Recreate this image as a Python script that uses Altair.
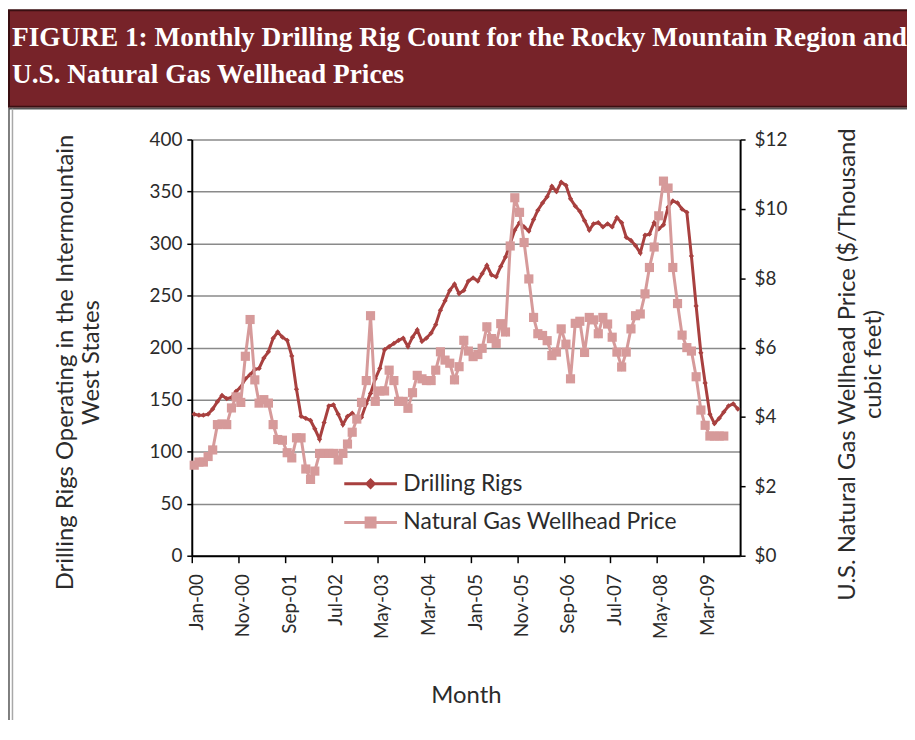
import altair as alt
import pandas as pd

# ---------------- data ----------------
start_month = "2000-01-01"
rig_counts = [
    136, 135, 135, 136, 141, 148, 154, 151, 152, 158,   # Jan-00 .. Oct-00
    162, 170, 174, 179, 180, 190, 196, 209, 215, 210,   # Nov-00 .. Aug-01
    207, 192, 160, 134, 132, 130, 122, 112, 128, 144,   # Sep-01 .. Jun-02
    145, 136, 126, 134, 137, 132, 133, 146, 156, 170,   # Jul-02 .. Apr-03
    180, 198, 201, 204, 207, 209, 201, 210, 217, 206,   # May-03 .. Feb-04
    209, 214, 222, 236, 245, 255, 261, 252, 255, 264,   # Mar-04 .. Dec-04
    267, 264, 271, 279, 270, 268, 278, 287, 300, 313,   # Jan-05 .. Oct-05
    320, 316, 312, 323, 332, 339, 345, 355, 350, 359,   # Nov-05 .. Aug-06
    356, 343, 336, 331, 322, 313, 319, 320, 316, 319,   # Sep-06 .. Jun-07
    316, 325, 320, 306, 303, 298, 291, 308, 309, 320,   # Jul-07 .. Apr-08
    314, 318, 335, 341, 339, 333, 330, 288, 240, 195,   # May-08 .. Feb-09
    166, 136, 127, 132, 138, 144, 146, 141,             # Mar-09 .. Oct-09
]
gas_prices = [
    2.61, 2.70, 2.70, 2.86, 3.05, 3.78, 3.80, 3.78, 4.26, 4.58,
    4.42, 5.75, 6.81, 5.07, 4.40, 4.50, 4.40, 3.78, 3.35, 3.33,
    2.97, 2.82, 3.40, 3.40, 2.50, 2.20, 2.44, 2.95, 2.95, 2.95,
    2.95, 2.76, 2.95, 3.22, 3.56, 3.94, 4.42, 5.05, 6.92, 4.45,
    4.75, 4.75, 5.35, 5.05, 4.45, 4.45, 4.25, 4.70, 5.20, 5.10,
    5.05, 5.05, 5.35, 5.88, 5.64, 5.55, 5.07, 5.45, 6.21, 5.90,
    5.74, 5.80, 5.98, 6.60, 6.26, 6.12, 6.69, 6.45, 8.93, 10.32,
    9.90, 9.03, 7.98, 6.87, 6.40, 6.35, 6.20, 5.77, 5.87, 6.54,
    6.10, 5.10, 6.70, 6.76, 5.86, 6.87, 6.80, 6.40, 6.87, 6.68,
    6.30, 5.87, 5.44, 5.87, 6.54, 6.92, 6.97, 7.55, 8.31, 8.90,
    9.80, 10.80, 10.60, 8.31, 7.27, 6.36, 6.00, 5.90, 5.16, 4.20,
    3.76, 3.45, 3.45, 3.45, 3.45,
]
series_names = ["Drilling Rigs", "Natural Gas Wellhead Price"]
rig_ticks = [0, 50, 100, 150, 200, 250, 300, 350, 400]
price_ticks = [0, 2, 4, 6, 8, 10, 12]
tick_every = 10

title_lines = [
    "FIGURE 1: Monthly Drilling Rig Count for the Rocky Mountain Region and",
    "U.S. Natural Gas Wellhead Prices",
]
left_title = ["Drilling Rigs Operating in the Intermountain", "West States"]
right_title = ["U.S. Natural Gas Wellhead Price ($/Thousand", "cubic feet)"]
x_title = "Month"

# ---------------- styling ----------------
RIG_C = "#a8403f"
GAS_C = "#d69a9a"
BANNER = "#772329"
TXT = "#2b2b2b"
GRID = "#8a8a8a"
FONT = "Lato"

months = pd.date_range(start_month, periods=len(rig_counts), freq="MS")
rig_df = pd.DataFrame({"month": months, "value": rig_counts, "series": series_names[0]})
gas_df = pd.DataFrame({"month": months[: len(gas_prices)], "value": gas_prices,
                       "series": series_names[1]})

tick_dates = [alt.DateTime(year=int(d.year), month=int(d.month), date=1)
              for d in months[::tick_every]]

x_enc = alt.X(
    "month:T",
    title=x_title,
    scale=alt.Scale(domain=[alt.DateTime(year=1999, month=12, date=16),
                            alt.DateTime(year=2009, month=10, date=16)]),
    axis=alt.Axis(values=tick_dates, format="%b-%y", labelAngle=270,
                  labelFont=FONT, labelFontSize=19, labelColor=TXT, labelPadding=11,
                  tickSize=7, tickColor="black", tickWidth=1.5, tickOffset=-2, labelOffset=4,
                  domainColor="black", domainWidth=2, grid=False,
                  titleFont=FONT, titleFontSize=24, titleFontWeight="normal",
                  titleColor=TXT, titlePadding=45),
)

y_rigs = alt.Y(
    "value:Q",
    scale=alt.Scale(domain=[0, 400], nice=False),
    axis=alt.Axis(orient="left", values=rig_ticks, grid=True, gridColor=GRID, gridWidth=1.5,
                  domainColor="black", domainWidth=2, tickColor="black", tickSize=5,
                  tickWidth=1.5, labelFont=FONT, labelFontSize=19, labelColor=TXT,
                  labelPadding=5, title=left_title, titleFont=FONT, titleFontSize=24,
                  titleFontWeight="normal", titleColor=TXT, titlePadding=46,
                  titleLineHeight=26, titleY=224),
)
y_gas = alt.Y(
    "value:Q",
    scale=alt.Scale(domain=[0, 12], nice=False),
    axis=alt.Axis(orient="right", values=price_ticks, labelExpr="'$' + datum.value",
                  grid=False, domainColor="black", domainWidth=2, tickColor="black",
                  tickSize=5, tickWidth=1.5, labelFont=FONT, labelFontSize=19,
                  labelColor=TXT, labelPadding=9, title=right_title, titleAngle=270,
                  titleBaseline="top", titleFont=FONT, titleFontSize=24,
                  titleFontWeight="normal", titleColor=TXT, titlePadding=23,
                  titleLineHeight=26, titleY=226),
)

RIG_SYM = "M-1,0H1M0,-0.14L0.14,0L0,0.14L-0.14,0Z"
GAS_SYM = "M-1,0H1M-0.17,-0.17H0.17V0.17H-0.17Z"

rig_color = alt.Color(
    "series:N",
    scale=alt.Scale(domain=[series_names[0]], range=[RIG_C]),
    legend=alt.Legend(title=None, orient="none", legendX=152, legendY=318.5,
                      symbolType=RIG_SYM, symbolSize=2809, symbolStrokeWidth=3,
                      labelFont=FONT, labelFontSize=23, labelColor=TXT, labelOffset=5,
                      labelLimit=0, padding=0),
)
gas_color = alt.Color(
    "series:N",
    scale=alt.Scale(domain=[series_names[1]], range=[GAS_C]),
    legend=alt.Legend(title=None, orient="none", legendX=152, legendY=357.5,
                      symbolType=GAS_SYM, symbolSize=2809, symbolStrokeWidth=3,
                      labelFont=FONT, labelFontSize=23, labelColor=TXT, labelOffset=5,
                      labelLimit=0, padding=0),
)

rig_base = alt.Chart(rig_df).encode(x=x_enc, y=y_rigs, color=rig_color)
rig_layer = alt.layer(
    rig_base.mark_line(strokeWidth=3),
    rig_base.mark_point(shape="diamond", filled=True, size=28, opacity=1),
)
gas_base = alt.Chart(gas_df).encode(x=x_enc, y=y_gas, color=gas_color)
gas_layer = alt.layer(
    gas_base.mark_line(strokeWidth=3),
    gas_base.mark_point(shape="square", filled=True, size=85, opacity=1),
)

one_row = alt.Data(values=[{}])
banner = alt.Chart(one_row).mark_rect(fill=BANNER, stroke="#3a0f12", strokeWidth=2).encode(
    x=alt.value(-184), x2=alt.value(725), y=alt.value(-130), y2=alt.value(-33))
banner_text = alt.Chart(one_row).mark_text(
    align="left", baseline="alphabetic", font="Liberation Serif", fontWeight="bold",
    fontSize=27.5, color="white", lineHeight=37).encode(
    x=alt.value(-181), y=alt.value(-94), text=alt.value(title_lines))
frame = alt.Chart(one_row).mark_rect(fillOpacity=0, stroke="#555555", strokeWidth=1.5).encode(
    x=alt.value(-184), x2=alt.value(730), y=alt.value(-31), y2=alt.value(640))
frame_inner = alt.Chart(one_row).mark_rule(color="#a8a8a8", strokeWidth=1.5).encode(
    x=alt.value(-180.5), y=alt.value(-31), y2=alt.value(640))

chart = alt.layer(
    banner, banner_text, frame, frame_inner, rig_layer, gas_layer
).resolve_scale(y="independent", color="independent").properties(
    width=552, height=419,
    autosize=alt.AutoSizeParams(type="none"),
    padding={"left": 185, "top": 130, "right": 168, "bottom": 163},
    background="white",
).configure_view(stroke=None)

chart.save("out.html", embed_options={"renderer": "svg", "actions": False})
